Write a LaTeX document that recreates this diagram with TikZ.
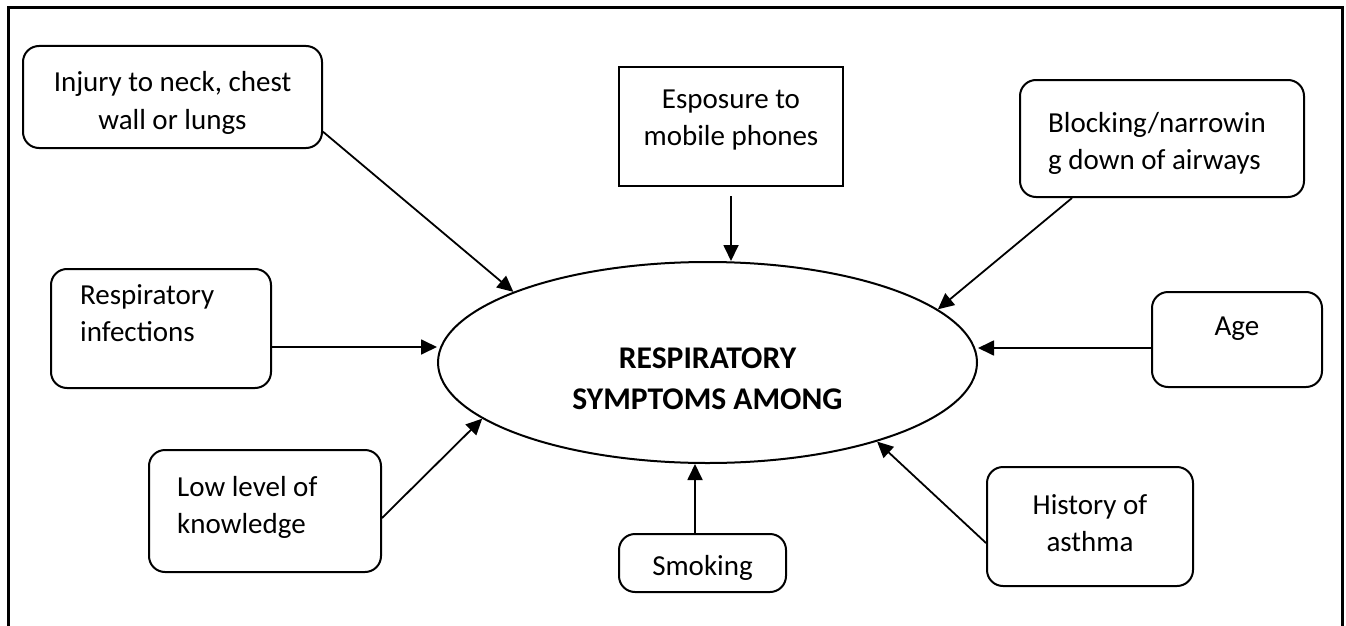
\documentclass[tikz,border=0pt]{standalone}
\usepackage{fontspec}
\setmainfont{Carlito}
\usetikzlibrary{arrows.meta,shapes.geometric}
\newcommand\regfont{\fontsize{29pt}{37pt}\selectfont}
\newcommand\boldfont{\fontsize{31.6pt}{41pt}\selectfont\bfseries}
\begin{document}
\begin{tikzpicture}[x=1pt,y=-1pt,
  rbox/.style={draw, line width=2pt, rounded corners=16pt, inner sep=0pt},
  sbox/.style={draw, line width=2pt, inner sep=0pt},
  lbl/.style={inner sep=0pt, font=\regfont},
  blbl/.style={inner sep=0pt, font=\boldfont},
  arr/.style={line width=1.8pt, -{Triangle[length=16pt,width=15pt]}},
  frame/.style={line width=3pt}]
\useasboundingbox (0,0) rectangle (1346,626);
% outer frame (open at the bottom)
\draw[frame] (8,626) -- (8,8) -- (1342,8) -- (1342,626);

% central ellipse
\node[draw, ellipse, line width=2pt, minimum width=539pt, minimum height=201pt, inner sep=0pt] (ell) at (707.5,362.5) {};
\node[blbl, anchor=base] (ellT) at (707.5,368) {\parbox[t]{500pt}{\centering RESPIRATORY\\SYMPTOMS AMONG}};

% boxes
\node[rbox, minimum width=299pt, minimum height=102pt] (inj) at (172.5,97) {};
\node[lbl, anchor=base] (injT) at (172.5,92) {\parbox[t]{400pt}{\centering Injury to neck, chest\\wall or lungs}};

\node[sbox, minimum width=224pt, minimum height=119pt] (esp) at (731,126.5) {};
\node[lbl, anchor=base] (espT) at (731,108) {\parbox[t]{400pt}{\centering Esposure to\\mobile phones}};

\node[rbox, minimum width=284pt, minimum height=117pt] (blk) at (1162,138.5) {};
\node[lbl, anchor=base west] (blkT) at (1048,132) {\parbox[t]{270pt}{\raggedright Blocking/narrowin\\g down of airways}};

\node[rbox, minimum width=220pt, minimum height=119pt] (res) at (161,328.5) {};
\node[lbl, anchor=base west] (resT) at (80,304) {\parbox[t]{200pt}{\raggedright Respiratory\\infections}};

\node[rbox, minimum width=170pt, minimum height=95pt] (age) at (1237,339.5) {};
\node[lbl, anchor=base] (ageT) at (1237,335) {\parbox[t]{160pt}{\centering Age}};

\node[rbox, minimum width=232pt, minimum height=122pt] (low) at (265,511) {};
\node[lbl, anchor=base west] (lowT) at (177,496) {\parbox[t]{200pt}{\raggedright Low level of\\knowledge}};

\node[rbox, minimum width=167pt, minimum height=58pt] (smk) at (702.5,563) {};
\begin{scope}
  \clip (619,534) rectangle (786,579);
  \node[lbl, anchor=base] (smkT) at (702.5,575.5) {\parbox[t]{160pt}{\centering Smoking}};
\end{scope}

\node[rbox, minimum width=206pt, minimum height=119pt] (his) at (1090,526.5) {};
\node[lbl, anchor=base] (hisT) at (1090,514.5) {\parbox[t]{200pt}{\centering History of\\asthma}};

% connectors
\draw[arr] (inj.-13.2) -- (ell.160.5);
\draw[arr] ([yshift=-9pt]esp.south) -- (esp.south |- ell.north);
\draw[arr] ([xshift=-90pt]blk.south) -- (ell.13.05);
\draw[arr] ([yshift=-18.5pt]res.east) -- ([yshift=-18.5pt]res.east -| ell.west);
\draw[arr] ([yshift=-8.5pt]age.west) -- ([yshift=-8.5pt]age.west -| ell.east);
\draw[arr] ([yshift=-7pt]low.east) -- (ell.194.94);
\draw[arr] ([xshift=-7.5pt]smk.north) -- ([xshift=-7.5pt]smk.north |- ell.south);
\draw[arr] ([yshift=-16.5pt]his.west) -- (ell.335.96);
\end{tikzpicture}
\end{document}
